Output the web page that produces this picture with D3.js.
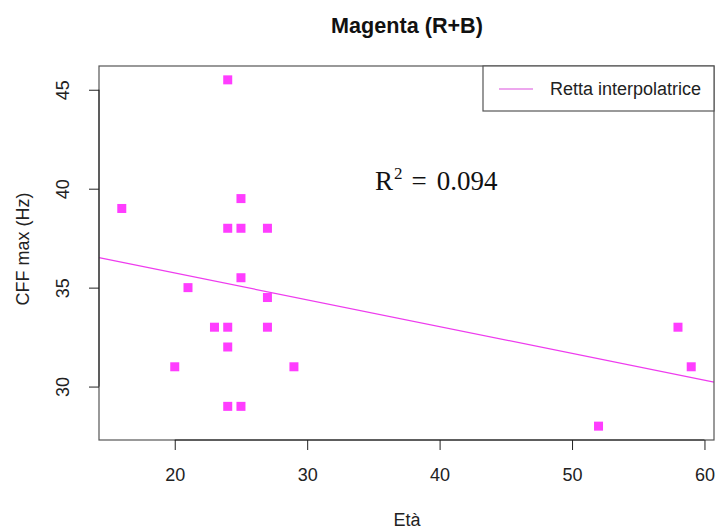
<!DOCTYPE html>
<html lang="it">
<head>
  <meta charset="utf-8"/>
  <title>Magenta (R+B)</title>
  <style>
    body { margin: 0; background: #fff; }
    svg { display: block; font-family: "Liberation Sans", Arial, sans-serif; }
  </style>
</head>
<body>
<div id="chart"></div>

<script src="https://cdn.jsdelivr.net/npm/d3@7/dist/d3.min.js"></script>
<script>

  // data
  let ages = [16, 20, 21, 23, 24, 24, 24, 24, 24, 25, 25, 25, 25, 27, 27, 27, 29, 52, 58, 59];
  let cffMax = [39, 31, 35, 33, 45.5, 38, 33, 32, 29, 39.5, 38, 35.5, 29, 38, 34.5, 33, 31, 28, 33, 31];
  let xTicks = [20, 30, 40, 50, 60];
  let yTicks = [30, 35, 40, 45];
  // fitted line as drawn in the picture (intercept, slope)
  let fitCoefficients = [38.45, -0.1355];
  let rSquaredLabel = '0.094';

  let width = 719, height = 531;
  let plot = {left: 99, right: 714, top: 66, bottom: 440};

  let points = ages.map((a, i) => ({x: a, y: cffMax[i]}));

  // R-style 4% padding on the data range
  function padded(values) {
    let ext = d3.extent(values);
    let pad = (ext[1] - ext[0]) * 0.04;
    return [ext[0] - pad, ext[1] + pad];
  }

  let xScale = d3.scaleLinear().domain(padded(ages)).range([plot.left, plot.right]);
  let yScale = d3.scaleLinear().domain(padded(cffMax)).range([plot.bottom, plot.top]);

  let fit = x => fitCoefficients[0] + fitCoefficients[1] * x;

  let svg = d3.select('#chart').append('svg')
    .attr('width', width)
    .attr('height', height);

  // title
  svg.append('text')
    .attr('x', 407)
    .attr('y', 33)
    .attr('text-anchor', 'middle')
    .style('font-size', '21.6px')
    .style('font-weight', 'bold')
    .attr('fill', '#111')
    .text('Magenta (R+B)');

  // regression line
  let xd = xScale.domain();
  svg.append('line')
    .attr('x1', xScale(xd[0]))
    .attr('y1', yScale(fit(xd[0])))
    .attr('x2', xScale(xd[1]))
    .attr('y2', yScale(fit(xd[1])))
    .attr('stroke', '#ee3cee')
    .attr('stroke-width', 1.2);

  // points
  let size = 9;
  svg.append('g')
    .selectAll('rect')
    .data(points)
    .enter()
    .append('rect')
    .attr('x', d => xScale(d.x) - size / 2)
    .attr('y', d => yScale(d.y) - size / 2)
    .attr('width', size)
    .attr('height', size)
    .attr('fill', '#ff3dff');

  // plot box
  svg.append('rect')
    .attr('x', plot.left).attr('y', plot.top)
    .attr('width', plot.right - plot.left)
    .attr('height', plot.bottom - plot.top)
    .attr('fill', 'none')
    .attr('stroke', '#555')
    .attr('stroke-width', 1.2);

  // x axis
  let xAxis = svg.append('g')
    .attr('transform', `translate(0,${plot.bottom})`)
    .call(d3.axisBottom(xScale).tickValues(xTicks).tickSize(10).tickPadding(18));
  xAxis.select('.domain')
    .attr('d', `M${xScale(xTicks[0])},0H${xScale(xTicks[xTicks.length - 1])}`)
    .attr('stroke', '#222');
  xAxis.selectAll('.tick line').attr('stroke', '#222');
  xAxis.selectAll('text')
    .style('font-size', '18px')
    .style('font-family', '"Liberation Sans", Arial, sans-serif')
    .attr('fill', '#222');

  // y axis with rotated labels
  let yAxis = svg.append('g')
    .attr('transform', `translate(${plot.left},0)`)
    .call(d3.axisLeft(yScale).tickValues(yTicks).tickSize(10));
  yAxis.select('.domain')
    .attr('d', `M0,${yScale(yTicks[0])}V${yScale(yTicks[yTicks.length - 1])}`)
    .attr('stroke', '#222');
  yAxis.selectAll('.tick line').attr('stroke', '#222');
  yAxis.selectAll('.tick text')
    .attr('x', null).attr('dy', null)
    .attr('text-anchor', 'middle')
    .attr('transform', 'translate(-36,0) rotate(-90)')
    .attr('dy', '0.35em')
    .style('font-size', '18px')
    .style('font-family', '"Liberation Sans", Arial, sans-serif')
    .attr('fill', '#222');

  // axis titles
  svg.append('text')
    .attr('x', 407)
    .attr('y', 526)
    .attr('text-anchor', 'middle')
    .style('font-size', '18px')
    .attr('fill', '#222')
    .text('Età');

  svg.append('text')
    .attr('transform', `translate(29,249) rotate(-90)`)
    .attr('text-anchor', 'middle')
    .style('font-size', '18px')
    .attr('fill', '#222')
    .text('CFF max (Hz)');

  // legend
  let legend = svg.append('g');
  legend.append('rect')
    .attr('x', 483).attr('y', plot.top)
    .attr('width', plot.right - 483).attr('height', 45)
    .attr('fill', '#fff')
    .attr('stroke', '#555')
    .attr('stroke-width', 1.2);
  legend.append('line')
    .attr('x1', 499).attr('x2', 533)
    .attr('y1', 89).attr('y2', 89)
    .attr('stroke', '#e78ae9')
    .attr('stroke-width', 1.5);
  legend.append('text')
    .attr('x', 550).attr('y', 95)
    .style('font-size', '18px')
    .attr('fill', '#222')
    .text('Retta interpolatrice');

  // R squared, plotmath-like spacing
  let r2 = svg.append('text')
    .attr('x', 375).attr('y', 190)
    .style('font-family', '"Liberation Serif", "Times New Roman", serif')
    .style('font-size', '27px')
    .attr('fill', '#111');
  r2.append('tspan').text('R');
  r2.append('tspan').attr('dy', -11).attr('dx', 1).style('font-size', '17px').text('2');
  r2.append('tspan').attr('dy', 11).attr('dx', 9).text('=');
  r2.append('tspan').attr('dx', 10).text(rSquaredLabel);

</script>
</body>
</html>
